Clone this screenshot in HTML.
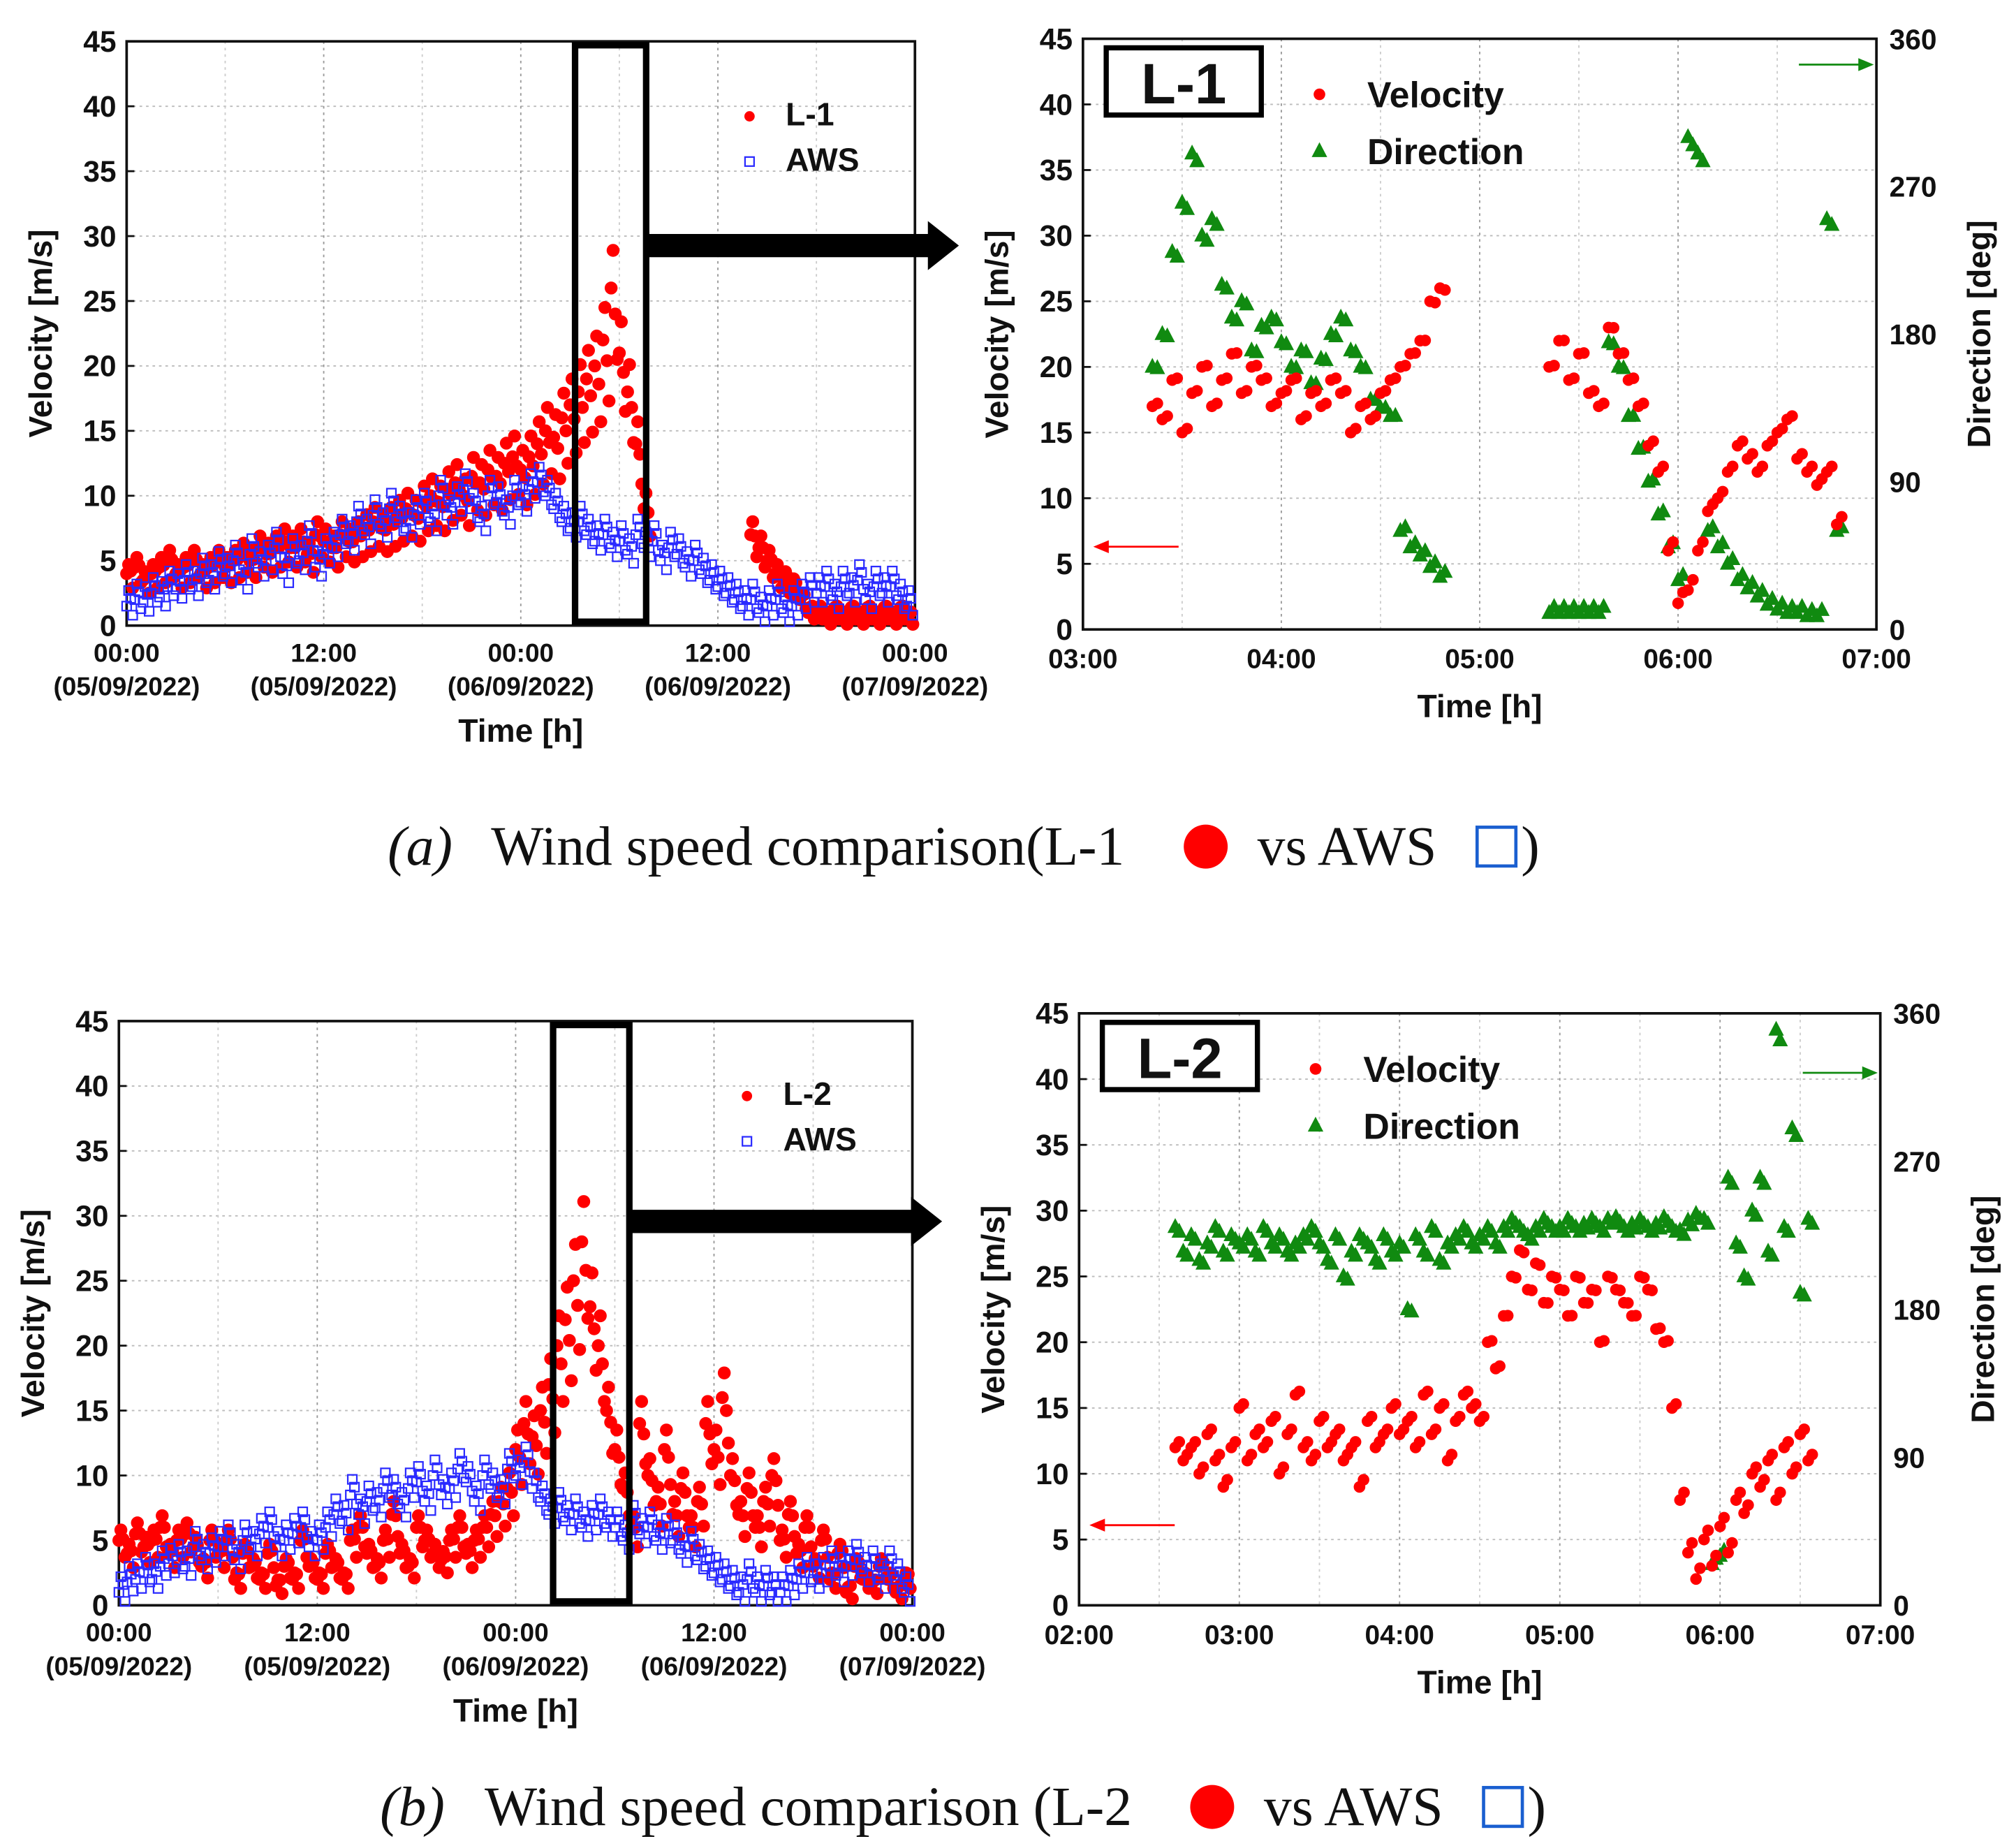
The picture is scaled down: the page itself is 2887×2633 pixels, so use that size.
<!DOCTYPE html>
<html><head><meta charset="utf-8"><style>
html,body{margin:0;padding:0;background:#fff}
svg{display:block}
text{font-family:"Liberation Sans",sans-serif;font-weight:bold;fill:#111}
.cap{font-family:"Liberation Serif",serif;font-weight:normal;font-size:43px}
</style></head><body>
<svg id="fig" width="2887" height="2633" viewBox="0 0 1560 1422.8" preserveAspectRatio="none" xmlns="http://www.w3.org/2000/svg"></svg>
<script>
// ---- data ----
const awsA=[1.5,2,1.8,2.5,2.2,3,2.8,3.5,3,4,3.5,4.5,4,5,3.5,5.5,4.5,5,6,4,5.5,5,6.5,4.5,5.5,6,7,6.5,8,7,8.5,7.5,9,8,7.5,8.5,9,8,10,8.5,9.5,10.5,9,8,10,9.5,8.5,10,9.5,10.5,11,10,9,8,7.5,8,7,6.5,7,6,6.5,5.5,7,6,6.5,5,6,5.5,4.5,5,4,3.5,3,2.5,2,1.5,2,1,1.5,2,1,1.5,2,2.5,2.5,3,2,3,2.5,3.5,2,3,2.5,3,2,1.5];
const l1=[4,4.5,3.5,4,4.5,5,4,4.5,5,4,4.5,5,4.5,5,5.5,5,6,5.5,6,6.5,6,6.5,5.5,7,6.5,6,7,6.5,7,7.5,8,7.5,8,8.5,9,8.5,9.5,10,9.5,10.5,11,10,11.5,11,12,11.5,12.5,13,12,13,14,15,14.5,16,17,18,19,20,22,26,21,18,14,9,null,null,null,null,null,null,null,null,null,null,null,null,7,6,5,4,3.5,3,2,1,1,0.5,1,0.5,1,0.5,1,0.5,1,0.5,1,0.5];
const awsB=[1,1.8,2,2.5,2,3,3.2,3.5,3,4.5,3.5,4,4.5,5,3.5,5,4.5,5.5,6,4.5,5,5.5,6,4.5,5,6,7,6.5,8.5,7,8,7.5,9,8.5,7.5,9,9.5,8,10,8.5,9,10.5,9.5,8,10,9,8.5,10.5,10,11,9,8,7,7.5,6.5,7,6,6.5,7,6,6,5,6.5,5.5,6,5,5.5,5,4,4.5,3.5,3,2.5,2,1.5,1,2,1,1.5,1,1,1.5,2,2.5,2,2.5,3,2.5,3,3.5,2.5,3,2,3,2,1];
const l2=[5,4,5.5,4.5,5,6,4,5,5.5,4.5,3,5,4,5,2,4,3,2,4,1.5,3,2,5,3,2,4,3,2,5,6,4,3,5,7,4,3,6,5,4,3.5,5,6,4,5,6,7,8,9,12,14,13,15,17,20,22,25,28,23,20,15,12,9,6,14,10,8,12,7,9,6,8,14,12,16,10,7,9,6,8,10,5,7,4,6,3,5,2,4,1,3,2,1.5,3,2,1,2];
const ra1Time=[3.35,3.4,3.45,3.5,3.55,3.6,3.65,3.7,3.75,3.8,3.85,3.9,3.95,4.0,4.05,4.1,4.15,4.2,4.25,4.3,4.35,4.4,4.45,4.5,4.55,4.6,4.65,4.7,4.75,4.8];
const ra1Vel=[17,16,19,15,18,20,17,19,21,18,20,19,17,18,19,16,18,17,19,18,15,17,16,18,19,20,21,22,25,26];
const ra1Dir=[160,180,230,260,290,240,250,210,190,200,170,185,190,175,160,170,150,165,180,190,170,160,140,135,130,60,50,45,38,32];
const ra2Time=[5.35,5.4,5.45,5.5,5.55,5.6,5.65,5.7,5.75,5.8,5.85,5.9,5.95,6.0,6.05,6.1,6.15,6.2,6.25,6.3,6.35,6.4,6.45,6.5,6.55,6.6,6.65,6.7,6.75,6.8];
const ra2Vel=[20,22,19,21,18,17,23,21,19,17,14,12,6,2,3,6,9,10,12,14,13,12,14,15,16,13,12,11,12,8];
const ra2Dir=[10,10,10,10,10,10,175,160,130,110,90,70,50,30,300,290,60,50,40,30,25,20,15,12,10,10,8,8,250,60];
const rbVel=[12,11,12,10,13,11,9,12,15,11,13,12,14,10,13,16,12,11,14,12,13,11,12,9,14,12,13,15,13,14,12,16,13,15,11,14,16,15,14,20,18,22,25,27,24,26,23,25,24,22,25,23,24,20,25,24,23,22,25,24,21,20,15,8,4,2,5,3,6,4,8,7,10,9,11,8,12,10,13,11];
const rbDir=[230,215,225,210,220,230,215,225,220,225,215,230,220,225,215,220,225,230,220,210,225,200,215,225,220,210,225,215,220,180,225,215,230,210,220,225,230,220,225,230,220,230,235,230,225,230,235,230,230,235,230,232,235,230,235,236,230,232,235,230,232,236,230,228,234,238,235,25,30,260,220,200,240,260,215,350,230,290,190,235];
const leftTicks=["00:00","12:00","00:00","12:00","00:00"];
const leftDates=["(05/09/2022)","(05/09/2022)","(06/09/2022)","(06/09/2022)","(07/09/2022)"];
const velTicks=[0,5,10,15,20,25,30,35,40,45];
const dirTicks=[0,90,180,270,360];
const ticksA=["03:00","04:00","05:00","06:00","07:00"];
const ticksB=["02:00","03:00","04:00","05:00","06:00","07:00"];

const NS="http://www.w3.org/2000/svg";
const svg=document.getElementById('fig');
function el(tag,attrs,parent,txt){const e=document.createElementNS(NS,tag);for(const k in attrs)e.setAttribute(k,attrs[k]);if(txt!==undefined)e.textContent=txt;(parent||svg).appendChild(e);return e;}

function frame(g,x0,x1,y0,y1,nX,vGrid){
  for(let i=1;i<9;i++){const y=y1-(y1-y0)*i/9;const l=el('line',{x1:x0,x2:x1,y1:y,y2:y,stroke:'#bbb','stroke-dasharray':'2,3','stroke-width':1},g);}
  for(let i=1;i<nX*vGrid;i++){const x=x0+(x1-x0)*i/(nX*vGrid);const major=i%vGrid===0;const l=el('line',{x1:x,x2:x,y1:y0,y2:y1,stroke:major?'#999':'#ccc','stroke-dasharray':'2,3','stroke-width':1},g);}
  const r=el('rect',{x:x0,y:y0,width:x1-x0,height:y1-y0,fill:'none',stroke:'#111','stroke-width':2},g);
  
}
function velAxis(g,x0,y0,y1,title){
  velTicks.forEach(v=>{const y=y1-(y1-y0)*v/45;
    const t=el('text',{x:x0-8,y:y+8,'text-anchor':'end','font-size':23},g,String(v));
    el('line',{x1:x0,x2:x0+6,y1:y,y2:y,stroke:'#111','stroke-width':1.5},g);});
  const t=el('text',{transform:`translate(${x0-58},${(y0+y1)/2}) rotate(-90)`,'text-anchor':'middle','font-size':25},g,title);
  
}
function dot(g,x,y,r,c){const d=el('circle',{cx:x,cy:y,r:r,fill:c},g);}
function sq(g,x,y){const d=el('rect',{x:x-3.5,y:y-3.5,width:7,height:7,fill:'none',stroke:'#2a2aff','stroke-width':1.2},g);}
function tri(g,x,y){const d=el('polygon',{points:`${x},${y-7} ${x-6},${y+4.5} ${x+6},${y+4.5}`,fill:'#108a10'},g);}

function leftChart(id,x0,x1,y0,y1,red,aws,label,box,arrowY){
  const g=el('g',{});
  frame(g,x0,x1,y0,y1,4,2);
  velAxis(g,x0,y0,y1,'Velocity [m/s]');
  const X=h=>x0+(x1-x0)*h/48, Y=v=>y1-(y1-y0)*v/45;
  leftTicks.forEach((s,i)=>{const x=x0+(x1-x0)*i/4;
    const t=el('text',{x:x,y:y1+28,'text-anchor':'middle','font-size':20},g,s);
    const d=el('text',{x:x,y:y1+54,'text-anchor':'middle','font-size':20,'font-weight':'normal'},g,leftDates[i]);});
  const xt=el('text',{x:(x0+x1)/2,y:y1+90,'text-anchor':'middle','font-size':25},g,'Time [h]');
  red.forEach((v,i)=>{if(v===null)return;
    dot(g,X(i*0.5),Y(v),5,'#f00');dot(g,X(i*0.5+0.12),Y(v*1.1+0.3),5,'#f00');
    dot(g,X(i*0.5+0.25),Y(v*0.9+0.6),5,'#f00');dot(g,X(i*0.5+0.37),Y(Math.max(0,v*0.8-0.3)),5,'#f00');});
  aws.forEach((v,i)=>{sq(g,X(i*0.5),Y(v));sq(g,X(i*0.5+0.12),Y(v+1.2));sq(g,X(i*0.5+0.25),Y(v+0.6));sq(g,X(i*0.5+0.37),Y(Math.max(0,v-0.7)));});
  dot(g,x1-128,y0+58,4,'#f00');
  const a=el('text',{x:x1-100,y:y0+65,'font-size':25},g,label);
  sq(g,x1-128,y0+93);
  const b=el('text',{x:x1-100,y:y0+100,'font-size':25},g,'AWS');
  const r=el('rect',{x:box[0],y:y0+3,width:box[1]-box[0],height:y1-y0-6,fill:'none',stroke:'#000','stroke-width':5},g);
  const ar=el('polygon',{points:`${box[1]},${arrowY-9} ${box[1]+218},${arrowY-9} ${box[1]+218},${arrowY-19} ${box[1]+242},${arrowY} ${box[1]+218},${arrowY+19} ${box[1]+218},${arrowY+9} ${box[1]},${arrowY+9}`,fill:'#000'},g);
  
}

function rightChart(id,x0,x1,y0,y1,t0,ticks,series,label,redY,greenY){
  const g=el('g',{});
  const nH=ticks.length-1;
  frame(g,x0,x1,y0,y1,nH,2);
  velAxis(g,x0,y0,y1,'Velocity [m/s]');
  dirTicks.forEach(v=>{const y=y1-(y1-y0)*v/360;
    const t=el('text',{x:x1+10,y:y+8,'font-size':22},g,String(v));});
  const rt=el('text',{transform:`translate(${x1+88},${(y0+y1)/2}) rotate(-90)`,'text-anchor':'middle','font-size':25},g,'Direction [deg]');
  ticks.forEach((s,i)=>{const x=x0+(x1-x0)*i/nH;
    const t=el('text',{x:x,y:y1+30,'text-anchor':'middle','font-size':21},g,s);});
  const xt=el('text',{x:(x0+x1)/2,y:y1+68,'text-anchor':'middle','font-size':25},g,'Time [h]');
  const X=h=>x0+(x1-x0)*(h-t0)/nH, Y=v=>y1-(y1-y0)*v/45, YD=d=>y1-(y1-y0)*d/360;
  series.forEach(s=>{s.t.forEach((h,i)=>{tri(g,X(h),YD(s.d[i]));tri(g,X(h+0.025),YD(s.d[i]*0.97+4));});
    s.t.forEach((h,i)=>{dot(g,X(h),Y(s.v[i]),4.5,'#f00');dot(g,X(h+0.025),Y(s.v[i]*0.96+0.9),4.5,'#f00');});});
  const b=el('rect',{x:x0+18,y:y0+7,width:120,height:52,fill:'#fff',stroke:'#000','stroke-width':4},g);
  const bt=el('text',{x:x0+78,y:y0+50,'text-anchor':'middle','font-size':44},g,label);
  dot(g,x0+183,y0+43,4.5,'#f00');
  const l1t=el('text',{x:x0+220,y:y0+53,'font-size':28},g,'Velocity');
  tri(g,x0+183,y0+87);
  const l2t=el('text',{x:x0+220,y:y0+97,'font-size':28},g,'Direction');
  el('line',{x1:x0+74,x2:x0+14,y1:redY,y2:redY,stroke:'#f00','stroke-width':1.5},g);
  el('polygon',{points:`${x0+8},${redY} ${x0+20},${redY-5} ${x0+20},${redY+5}`,fill:'#f00'},g);
  el('line',{x1:x1-60,x2:x1-8,y1:greenY,y2:greenY,stroke:'#108a10','stroke-width':1.5},g);
  el('polygon',{points:`${x1-2},${greenY} ${x1-14},${greenY-5} ${x1-14},${greenY+5}`,fill:'#108a10'},g);
}

leftChart('chart-a-left',98,708,32,484,l1,awsA,'L-1',[445,500],190);
rightChart('chart-a-right',838,1452,30,487,3,ticksA,[{t:ra1Time,v:ra1Vel,d:ra1Dir},{t:ra2Time,v:ra2Vel,d:ra2Dir}],'L-1',423,50);
leftChart('chart-b-left',92,706,790,1242,l2,awsB,'L-2',[428,487],945);
const rbTime=rbVel.map((_,i)=>2.6+i*0.05);
rightChart('chart-b-right',835,1455,784,1242,2,ticksB,[{t:rbTime,v:rbVel,d:rbDir}],'L-2',1180,830);

function caption(y,lab,txt,cx,qx){
  const g=el('g',{});
  const a=el('text',{x:lab==='(a)'?300:294,y:y+14,class:'cap','font-style':'italic'},g,lab);
  const b=el('text',{x:lab==='(a)'?380:375,y:y+14,class:'cap'},g,txt);
  el('circle',{cx:cx,cy:y,r:17,fill:'#f00'},g);
  const c=el('text',{x:cx+40,y:y+14,class:'cap'},g,'vs AWS');
  el('rect',{x:qx,y:y-15,width:30,height:30,fill:'none',stroke:'#1a5fd0','stroke-width':2.5},g);
  el('text',{x:qx+34,y:y+14,class:'cap'},g,')');
}
caption(655,'(a)','Wind speed comparison(L-1',933,1143);
caption(1398,'(b)','Wind speed comparison (L-2',938,1148);
</script>
</body></html>
